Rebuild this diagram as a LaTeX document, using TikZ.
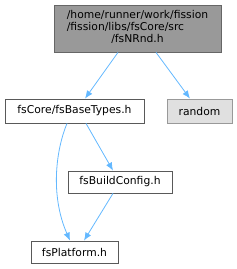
\documentclass[tikz,border=0pt]{standalone}
\usepackage{fontspec}
\setmainfont{DejaVu Sans}
\usetikzlibrary{arrows.meta}
\definecolor{edgeblue}{HTML}{63B8FF}
\begin{document}
\begin{tikzpicture}[x=1bp,y=-1bp,
  box/.style={draw=black!65, line width=0.8bp, fill=white, inner sep=0pt, font=\fontsize{10.8}{12}\selectfont},
  edge/.style={draw=edgeblue, line width=0.8bp, -{Latex[length=8bp,width=6.5bp]}}]
\useasboundingbox (0,0) rectangle (237,269);
\node[box, fill=black!40, draw=black!60, minimum width=167bp, minimum height=47bp] (top) at (137.5,28.5)
  {\begin{tabular}{@{}l@{}}/home/runner/work/fission\\/fission/libs/fsCore/src\\\multicolumn{1}{@{}c@{}}{/fsNRnd.h}\end{tabular}};
\node[box, minimum width=139bp, minimum height=24bp] (base) at (74.5,111) {fsCore/fsBaseTypes.h};
\node[box, fill=black!12, draw=black!40, minimum width=65bp, minimum height=24bp] (random) at (199.5,111) {random};
\node[box, minimum width=104bp, minimum height=22bp] (build) at (120,182) {fsBuildConfig.h};
\node[box, minimum width=87bp, minimum height=22bp] (plat) at (74.5,252) {fsPlatform.h};
\draw[edge] ([xshift=-19.5bp]top.south) -- ([xshift=10.5bp]base.north);
\draw[edge] ([xshift=18.5bp]top.south) -- ([xshift=-9.5bp]random.north);
\draw[edge] ([xshift=11.5bp]base.south) -- ([xshift=-7bp]build.north);
\draw[edge] ([xshift=-7.5bp]base.south) .. controls (56,150) and (50,195) .. ([xshift=-4.5bp]plat.north);
\draw[edge] ([xshift=-7bp]build.south) -- ([xshift=9.5bp]plat.north);
\end{tikzpicture}
\end{document}
